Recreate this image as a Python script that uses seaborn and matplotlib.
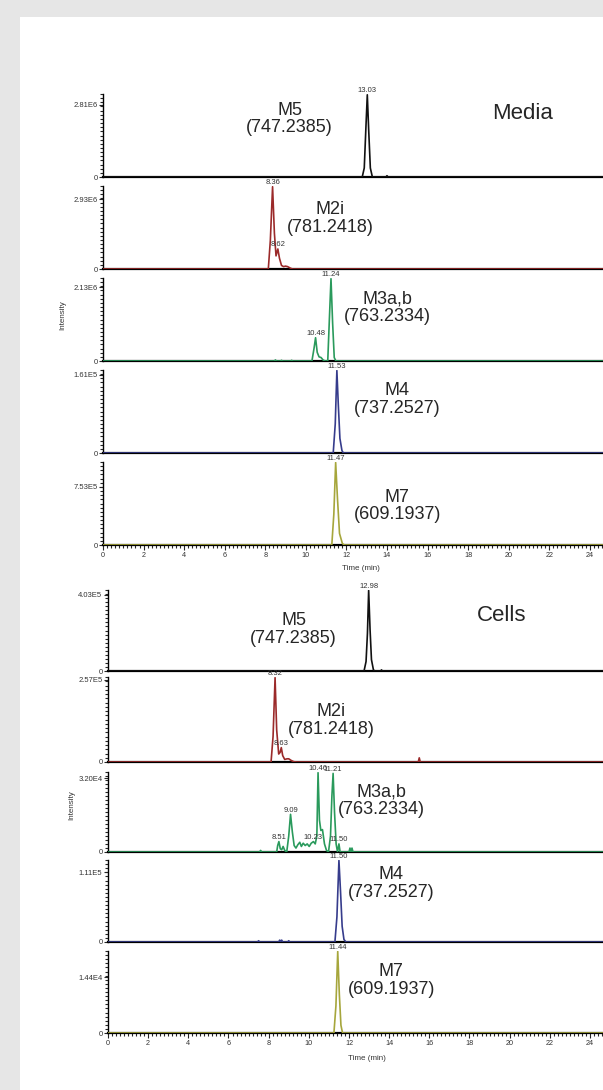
import pandas as pd
import matplotlib
matplotlib.use('Agg')
import matplotlib.pyplot as plt
from matplotlib.ticker import MultipleLocator
from matplotlib.patches import Rectangle
import seaborn as sns

sns.set_style('white')
plt.rcParams['font.family'] = ['Liberation Sans', 'DejaVu Sans']

compounds = ['M5', 'M2i', 'M3a,b', 'M4', 'M7']
masses = ['(747.2385)', '(781.2418)', '(763.2334)', '(737.2527)', '(609.1937)']
colors = ['#111111', '#9b2a2a', '#2a9a5c', '#363c8c', '#a6a63c']

# y-axis scale of each panel (label value and the top of the axis)
media_nl = [2.81e6, 2.93e6, 2.13e6, 1.61e5, 7.53e5]
media_nl_txt = ['2.81E6', '2.93E6', '2.13E6', '1.61E5', '7.53E5']
media_ymax = [3.23e6, 3.48e6, 2.39e6, 1.71e5, 1.076e6]
cells_nl = [4.03e5, 2.57e5, 3.20e4, 1.11e5, 1.44e4]
cells_nl_txt = ['4.03E5', '2.57E5', '3.20E4', '1.11E5', '1.44E4']
cells_ymax = [4.29e5, 2.66e5, 3.46e4, 1.306e5, 2.12e4]

# ---- Media traces ----
media_m5_t = [0, 12.78, 12.88, 12.96, 13.03, 13.10, 13.18, 13.28, 13.95, 14.00, 14.05, 24.9]
media_m5_y = [0, 0, 0.35e6, 1.9e6, 3.2e6, 1.8e6, 0.35e6, 0, 0, 0.05e6, 0, 0]

media_m2i_t = [0, 8.15, 8.25, 8.36, 8.45, 8.53, 8.62, 8.70, 8.80, 8.90, 9.00, 9.10, 9.25, 9.35, 24.9]
media_m2i_y = [0, 0, 1.2e6, 3.45e6, 1.5e6, 0.55e6, 0.84e6, 0.45e6, 0.15e6, 0.10e6, 0.12e6, 0.10e6,
               0.03e6, 0, 0]

media_m3_t = [0, 8.45, 8.50, 8.55, 8.75, 8.80, 8.85, 9.25, 9.30, 9.35, 10.30, 10.40, 10.48, 10.56,
              10.65, 10.75, 10.85, 10.95, 11.08, 11.16, 11.24, 11.32, 11.40, 11.48, 24.9]
media_m3_y = [0, 0, 0.03e6, 0, 0, 0.02e6, 0, 0, 0.02e6, 0, 0, 0.35e6, 0.67e6, 0.25e6,
              0.12e6, 0.10e6, 0.03e6, 0, 0, 1.2e6, 2.37e6, 1.1e6, 0.1e6, 0, 0]

media_m4_t = [0, 11.35, 11.45, 11.53, 11.60, 11.68, 11.78, 11.85, 24.9]
media_m4_y = [0, 0, 0.6e5, 1.70e5, 1.0e5, 0.3e5, 0.05e5, 0, 0]

media_m7_t = [0, 11.28, 11.38, 11.47, 11.56, 11.66, 11.80, 11.90, 24.9]
media_m7_y = [0, 0, 0.4e6, 1.07e6, 0.6e6, 0.15e6, 0.02e6, 0, 0]

# ---- Cells traces ----
cells_m5_t = [0, 12.75, 12.85, 12.92, 12.98, 13.05, 13.12, 13.22, 13.30, 13.58, 13.62, 13.66, 24.9]
cells_m5_y = [0, 0, 0.5e5, 2.0e5, 4.27e5, 2.2e5, 0.6e5, 0.05e5, 0, 0, 0.06e5, 0, 0]

cells_m2i_t = [0, 8.12, 8.22, 8.32, 8.40, 8.50, 8.57, 8.63, 8.70, 8.80, 8.92, 9.00, 9.12, 9.25, 9.40,
               15.45, 15.50, 15.55, 24.9]
cells_m2i_y = [0, 0, 0.8e5, 2.64e5, 1.0e5, 0.25e5, 0.3e5, 0.45e5, 0.2e5, 0.08e5, 0.1e5, 0.1e5,
               0.05e5, 0.01e5, 0, 0, 0.13e5, 0, 0]

cells_m3_t = [0, 7.55, 7.60, 7.65, 8.40, 8.45, 8.51, 8.58, 8.65, 8.72, 8.80, 8.90, 9.00, 9.09, 9.18,
              9.27, 9.36, 9.45, 9.55, 9.63, 9.72, 9.82, 9.92, 10.02, 10.12, 10.23, 10.32, 10.40,
              10.46, 10.53, 10.60, 10.68, 10.78, 10.88, 10.98, 11.08, 11.15, 11.21, 11.28, 11.36,
              11.43, 11.50, 11.56, 12.00, 12.05, 12.10, 12.15, 12.20, 24.9]
cells_m3_y = [0, 0, 0.07e4, 0, 0, 0.28e4, 0.45e4, 0.14e4, 0.10e4, 0.24e4, 0.07e4, 0, 0.69e4, 1.63e4,
              0.87e4, 0.28e4, 0.17e4, 0.31e4, 0.42e4, 0.24e4, 0.38e4, 0.28e4, 0.35e4, 0.24e4,
              0.38e4, 0.45e4, 0.35e4, 0.69e4, 3.43e4, 1.38e4, 0.93e4, 0.97e4, 0.35e4, 0.07e4, 0,
              0.69e4, 2.42e4, 3.40e4, 1.73e4, 0.35e4, 0, 0.35e4, 0, 0, 0.17e4, 0, 0.17e4, 0, 0]

cells_m4_t = [0, 7.45, 7.50, 7.55, 8.50, 8.55, 8.60, 8.65, 8.70, 8.95, 9.00, 9.05, 11.30, 11.40,
              11.50, 11.58, 11.66, 11.75, 11.85, 24.9]
cells_m4_y = [0, 0, 0.02e5, 0, 0, 0.03e5, 0.01e5, 0.03e5, 0, 0, 0.02e5, 0, 0, 0.4e5,
              1.30e5, 0.8e5, 0.25e5, 0.04e5, 0, 0]

cells_m7_t = [0, 11.25, 11.35, 11.44, 11.52, 11.60, 11.68, 24.9]
cells_m7_y = [0, 0, 0.7e4, 2.11e4, 1.0e4, 0.2e4, 0, 0]

# labelled peaks (retention times)
media_peaks = [[13.03], [8.36, 8.62], [10.48, 11.24], [11.53], [11.47]]
cells_peaks = [[12.98], [8.32, 8.63], [8.51, 9.09, 10.23, 10.46, 11.21, 11.50], [11.50], [11.44]]

media_traces = [(media_m5_t, media_m5_y), (media_m2i_t, media_m2i_y), (media_m3_t, media_m3_y),
                (media_m4_t, media_m4_y), (media_m7_t, media_m7_y)]
cells_traces = [(cells_m5_t, cells_m5_y), (cells_m2i_t, cells_m2i_y), (cells_m3_t, cells_m3_y),
                (cells_m4_t, cells_m4_y), (cells_m7_t, cells_m7_y)]

# text placement: (x in min, y as axes fraction)
media_lbl_pos = [(9.2, 0.70), (11.2, 0.61), (14.0, 0.64), (14.5, 0.645), (14.5, 0.47)]
cells_lbl_pos = [(9.24, 0.51), (11.1, 0.49), (13.6, 0.64), (14.1, 0.71), (14.1, 0.64)]

W, H = 603, 1090
fig = plt.figure(figsize=(W / 100, H / 100), dpi=100)
fig.patch.set_facecolor('#e6e6e6')
fig.patches.append(Rectangle((20 / W, 0), 1, 1 - 17 / H, transform=fig.transFigure,
                             facecolor='white', edgecolor='none', zorder=-10))


def draw_group(left, tops, bases, xmax, traces, peaks, nl, nl_txt, ymax, lbl_pos, title, title_pos,
               time_lbl_x, time_lbl_y):
    for i in range(5):
        ax = fig.add_axes([left / W, 1 - bases[i] / H, 1 - left / W, (bases[i] - tops[i]) / H])
        ax.patch.set_alpha(0)
        t, y = traces[i]
        df = pd.DataFrame({'Time (min)': t, 'Intensity': y})
        sns.lineplot(data=df, x='Time (min)', y='Intensity', ax=ax, color=colors[i], lw=1.2,
                     estimator=None, sort=False, zorder=3)
        ax.set_xlim(0, xmax)
        ax.set_ylim(0, ymax[i])
        sns.despine(ax=ax)
        ax.spines['left'].set_linewidth(1.0)
        ax.spines['bottom'].set_linewidth(1.6)
        ax.spines['left'].set_color('black')
        ax.spines['bottom'].set_color('black')
        ax.set_yticks([0, nl[i]])
        ax.set_yticklabels(['0', nl_txt[i]])
        ax.yaxis.set_minor_locator(MultipleLocator(ymax[i] / 20))
        ax.tick_params(axis='y', which='major', direction='out', length=3, width=0.8,
                       labelsize=5.5, pad=1, left=True, labelcolor='#333333')
        ax.tick_params(axis='y', which='minor', direction='out', length=2, width=0.8, left=True)
        ax.set_ylabel('')
        if i == 4:
            ax.xaxis.set_major_locator(MultipleLocator(2))
            ax.xaxis.set_minor_locator(MultipleLocator(0.2))
            ax.tick_params(axis='x', which='major', direction='out', length=3.5, width=0.8,
                           labelsize=5.2, pad=1.5, bottom=True, labelcolor='#333333')
            ax.tick_params(axis='x', which='minor', direction='out', length=2, width=0.8,
                           bottom=True)
            ax.set_xlabel('Time (min)', fontsize=5.8, labelpad=0, color='#333333')
            ax.xaxis.set_label_coords(time_lbl_x / xmax, time_lbl_y)
        else:
            ax.set_xticks([])
            ax.set_xlabel('')
        for pk in peaks[i]:
            h = y[t.index(pk)]
            ax.annotate(f'{pk:.2f}', (pk, h), xytext=(0, 0.5), textcoords='offset points',
                        ha='center', va='bottom', fontsize=5.5, color='#333333',
                        annotation_clip=False)
        ax.text(lbl_pos[i][0], lbl_pos[i][1], f'{compounds[i]}\n{masses[i]}',
                transform=ax.get_xaxis_transform(), ha='center', va='center', fontsize=13,
                linespacing=1.05)
        if i == 0:
            ax.text(title_pos[0], title_pos[1], title, transform=ax.get_xaxis_transform(),
                    ha='center', va='center', fontsize=16)


draw_group(103, [94, 186, 278, 370, 462], [177, 269, 361, 453, 545], 24.65, media_traces,
           media_peaks, media_nl, media_nl_txt, media_ymax, media_lbl_pos, 'Media', (20.7, 0.77),
           12.7, -0.24)
draw_group(108, [590, 677, 772, 860, 951], [671, 762, 852, 942, 1033], 24.65, cells_traces,
           cells_peaks, cells_nl, cells_nl_txt, cells_ymax, cells_lbl_pos, 'Cells', (19.6, 0.69),
           12.9, -0.27)

fig.text(63 / W, 1 - 315 / H, 'Intensity', rotation=90, fontsize=5.8, ha='center', va='center',
         color='#333333')
fig.text(72 / W, 1 - 805 / H, 'Intensity', rotation=90, fontsize=5.8, ha='center', va='center',
         color='#333333')

fig.savefig('out.png', dpi=100, facecolor=fig.get_facecolor())
